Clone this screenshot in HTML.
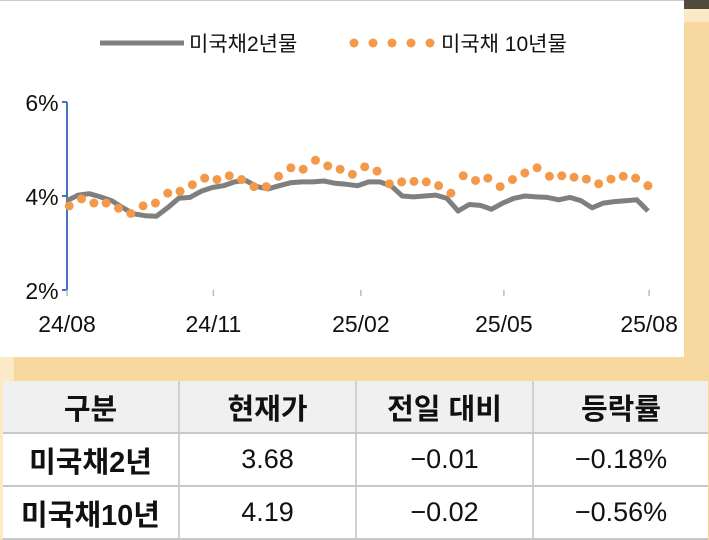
<!DOCTYPE html>
<html><head><meta charset="utf-8"><style>
body{margin:0;width:709px;height:539px;overflow:hidden;background:#f7d9a0;font-family:"Liberation Sans","Noto Sans CJK KR",sans-serif;position:relative}
.abs{position:absolute}
table{border-collapse:collapse;position:absolute;left:3px;top:381px;width:705px}
td{text-align:center;border-bottom:2px solid #c8c8c8;border-left:2px solid #d0d0d0;background:#fff;font-size:27px;color:#111;height:51px;padding:0}
td:first-child{border-left:none}
tr.h td{background:#f0f0f0;font-weight:bold;font-size:29px}
td.lab{font-weight:bold;font-size:29px}
</style></head><body>
<div class="abs" style="left:684px;top:0;width:25px;height:9px;background:#4f4a3c"></div>
<div class="abs" style="left:684px;top:9px;width:25px;height:13px;background:#fbe9c8"></div>
<div class="abs" style="left:0;top:357px;width:14px;height:182px;background:#fbe9c8"></div>
<div class="abs" style="left:0;top:0;width:684px;height:357px;background:#fff;border-top:1px solid #ccc;box-sizing:border-box"></div>
<svg class="abs" style="left:0;top:0" width="684" height="357">
<g id="legend">
<line x1="100" y1="43" x2="184" y2="43" stroke="#7f7f7f" stroke-width="5"/>
<text x="189" y="51" font-size="21" fill="#111">미국채2년물</text>
<g fill="#f39a4a">
<circle cx="354" cy="43" r="4.5"/><circle cx="373" cy="43" r="4.5"/><circle cx="392" cy="43" r="4.5"/><circle cx="411" cy="43" r="4.5"/><circle cx="430" cy="43" r="4.5"/></g>
<text x="441" y="51" font-size="21" fill="#111">미국채 10년물</text>
</g>
<g id="axes"></g><g id="series"></g>
</svg>
<table>
<tr class="h"><td style="width:175px">구분</td><td style="width:175px">현재가</td><td style="width:175px">전일 대비</td><td>등락률</td></tr>
<tr><td class="lab">미국채2년</td><td>3.68</td><td>−0.01</td><td>−0.18%</td></tr>
<tr><td class="lab">미국채10년</td><td>4.19</td><td>−0.02</td><td>−0.56%</td></tr>
</table>
<script>
const yTicks=[2,4,6];
const xTickLabels=["24/08","24/11","25/02","25/05","25/08"];
const xTickWeeks=[0,13.1,26.3,39.1,52.1];
const y2=[3.9,4.02,4.05,3.98,3.9,3.75,3.62,3.58,3.57,3.75,3.95,3.97,4.1,4.18,4.22,4.3,4.33,4.2,4.15,4.22,4.28,4.3,4.3,4.32,4.27,4.25,4.22,4.3,4.3,4.22,4.0,3.98,4.0,4.02,3.95,3.68,3.82,3.8,3.72,3.85,3.95,4.0,3.98,3.97,3.92,3.97,3.9,3.75,3.85,3.88,3.9,3.92,3.68];
const y10=[3.79,3.94,3.85,3.85,3.74,3.63,3.79,3.85,4.06,4.1,4.24,4.38,4.35,4.43,4.35,4.2,4.2,4.42,4.6,4.57,4.76,4.64,4.57,4.46,4.62,4.53,4.26,4.3,4.31,4.3,4.22,4.06,4.43,4.33,4.38,4.2,4.35,4.49,4.6,4.42,4.43,4.4,4.36,4.26,4.36,4.42,4.38,4.22];
const X0=67,X1=648,Y0=290,Y1=102;
const xs=w=>X0+(X1-X0)*w/52;
const ys=v=>Y0-(v-2)/4*(Y0-Y1);
const NS="http://www.w3.org/2000/svg";
function mk(tag,at,parent){const e=document.createElementNS(NS,tag);for(const k in at)e.setAttribute(k,at[k]);parent.appendChild(e);return e;}
const ax=document.getElementById('axes'),se=document.getElementById('series');
let a=mk('line',{x1:X0,y1:Y1,x2:X0,y2:Y0,stroke:'#4472c4','stroke-width':2},ax);


yTicks.forEach(v=>{
 let t=mk('line',{x1:X0-5,x2:X0,y1:ys(v),y2:ys(v),stroke:'#4472c4','stroke-width':2},ax);
 
 
 let l=mk('text',{x:X0-25,y:ys(v)+9,'font-size':23,fill:'#111','text-anchor':'middle'},ax);l.textContent=v+'%';
 
 
});
xTickWeeks.forEach((w,i)=>{
 let t=mk('line',{x1:xs(w),x2:xs(w),y1:Y0,y2:Y0+6,stroke:'#bbb','stroke-width':1.5},ax);
 
 
 let l=mk('text',{x:xs(w),y:Y0+42,'font-size':23,fill:'#111','text-anchor':'middle'},ax);l.textContent=xTickLabels[i];
 
 
});
let d='';y2.forEach((v,i)=>{d+=(i?'L':'M')+xs(i).toFixed(1)+','+ys(v).toFixed(1);});
let p=mk('path',{d:d,fill:'none',stroke:'#7f7f7f','stroke-width':5,'stroke-linejoin':'round'},se);


y10.forEach((v,i)=>{
 let c=mk('circle',{cx:xs(0.2+i*(52/(y10.length-1))*0.996),cy:ys(v),r:4.5,fill:'#f39a4a'},se);
 
 
});
</script>
</body></html>
